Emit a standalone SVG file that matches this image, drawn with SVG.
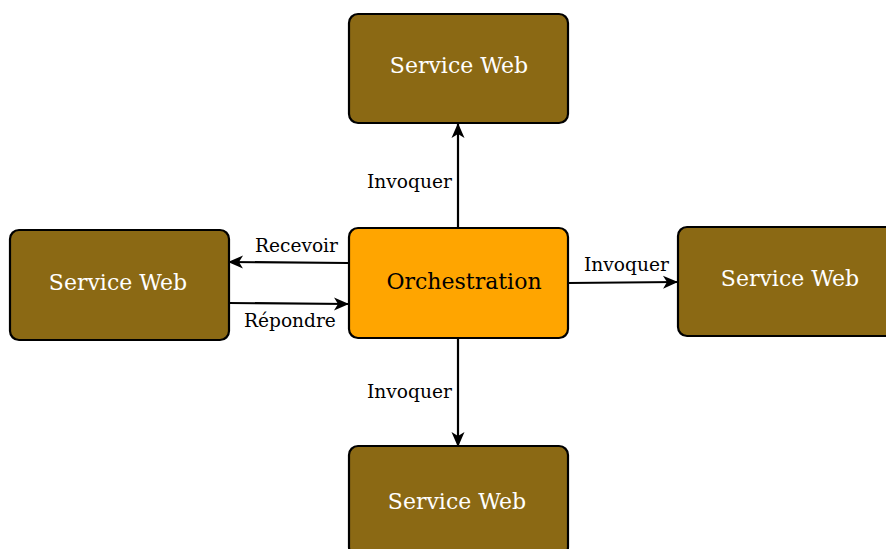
<svg xmlns="http://www.w3.org/2000/svg" width="886" height="549" viewBox="0 0 886 549">
<style>
.ws{fill:#8B6914;stroke:#000;stroke-width:2.2}
.orc{fill:#FFA500;stroke:#000;stroke-width:2.2}
.t{font-family:"DejaVu Serif",serif;font-size:22px;text-anchor:middle}
.w{fill:#fff}
.l{font-family:"DejaVu Serif",serif;font-size:18.6px;fill:#000}
.c{stroke:#000;stroke-width:2.2;fill:none;marker-end:url(#ah)}
</style>
<defs>
<marker id="ah" markerUnits="userSpaceOnUse" markerWidth="18" markerHeight="16" refX="15" refY="8" orient="auto">
<path d="M1,1.5 L16,8 L1,14.5 L5,8 z" fill="#000"/>
</marker>
</defs>
<rect width="886" height="549" fill="#fff"/>
<g id="connectors">
<line class="c" x1="458" y1="228" x2="458" y2="124"/>
<line class="c" x1="348" y1="263" x2="229" y2="262"/>
<line class="c" x1="229" y1="303" x2="348" y2="304"/>
<line class="c" x1="568" y1="283" x2="677" y2="282"/>
<line class="c" x1="458" y1="338" x2="458" y2="446"/>
<text class="l" x="367" y="188">Invoquer</text>
<text class="l" x="255" y="252">Recevoir</text>
<text class="l" x="244" y="327">Répondre</text>
<text class="l" x="584" y="271">Invoquer</text>
<text class="l" x="367" y="398">Invoquer</text>
</g>
<g id="top">
<rect class="ws" x="349" y="14" width="219" height="109" rx="9"/>
<text class="t w" x="459" y="73">Service Web</text>
</g>
<g id="left">
<rect class="ws" x="10" y="230" width="219" height="110" rx="9"/>
<text class="t w" x="118" y="290">Service Web</text>
</g>
<g id="orchestration">
<rect class="orc" x="349" y="228" width="219" height="110" rx="9"/>
<text class="t" x="464" y="289">Orchestration</text>
</g>
<g id="right">
<rect class="ws" x="678" y="227" width="219" height="109" rx="9"/>
<text class="t w" x="790" y="286">Service Web</text>
</g>
<g id="bottom">
<rect class="ws" x="349" y="446" width="219" height="110" rx="9"/>
<text class="t w" x="457" y="509">Service Web</text>
</g>
</svg>
